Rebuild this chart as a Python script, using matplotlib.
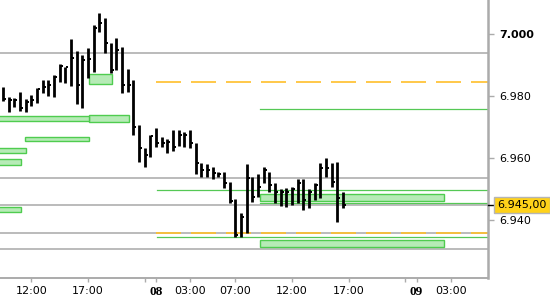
import matplotlib
matplotlib.use('Agg')
from matplotlib import pyplot as plt
from matplotlib.patches import Rectangle

# 30 min bars, x = bar number (one closed hour between 22:00 and 00:00)
highs = [6.9830, 6.9798, 6.9794, 6.9814, 6.9791, 6.9804, 6.9827, 6.9853, 6.9853, 6.9869,
         6.9904, 6.9895, 6.9985, 6.9946, 6.9933, 6.9956, 7.0030, 7.0069, 7.0053, 6.9972,
         6.9988, 6.9959, 6.9888, 6.9853, 6.9707, 6.9633, 6.9675, 6.9697, 6.9668, 6.9662,
         6.9691, 6.9691, 6.9684, 6.9691, 6.9649, 6.9584, 6.9581, 6.9571, 6.9555, 6.9555,
         6.9523, 6.9468, 6.9423, 6.9581, 6.9539, 6.9549, 6.9571, 6.9555, 6.9520, 6.9500,
         6.9504, 6.9507, 6.9533, 6.9533, 6.9500, 6.9520, 6.9584, 6.9601, 6.9584, 6.9588,
         6.9491]
lows = [6.9785, 6.9749, 6.9765, 6.9752, 6.9749, 6.9768, 6.9778, 6.9811, 6.9801, 6.9798,
        6.9846, 6.9843, 6.9833, 6.9775, 6.9762, 6.9859, 6.9878, 7.0008, 6.9940, 6.9875,
        6.9885, 6.9811, 6.9814, 6.9675, 6.9588, 6.9571, 6.9604, 6.9636, 6.9636, 6.9617,
        6.9623, 6.9639, 6.9636, 6.9633, 6.9549, 6.9539, 6.9539, 6.9533, 6.9539, 6.9504,
        6.9455, 6.9345, 6.9345, 6.9358, 6.9458, 6.9474, 6.9520, 6.9491, 6.9455, 6.9445,
        6.9442, 6.9449, 6.9455, 6.9432, 6.9439, 6.9465, 6.9471, 6.9539, 6.9507, 6.9394,
        6.9439]
closes = [6.9791, 6.9788, 6.9788, 6.9762, 6.9781, 6.9788, 6.9823, 6.9830, 6.9836, 6.9862,
          6.9898, 6.9895, 6.9924, 6.9836, 6.9917, 6.9920, 7.0021, 7.0037, 6.9972, 6.9885,
          6.9949, 6.9836, 6.9836, 6.9701, 6.9633, 6.9610, 6.9672, 6.9649, 6.9649, 6.9652,
          6.9636, 6.9675, 6.9675, 6.9649, 6.9584, 6.9562, 6.9562, 6.9552, 6.9549, 6.9520,
          6.9462, 6.9352, 6.9410, 6.9536, 6.9474, 6.9507, 6.9562, 6.9513, 6.9491, 6.9491,
          6.9491, 6.9500, 6.9520, 6.9465, 6.9491, 6.9513, 6.9568, 6.9568, 6.9523, 6.9471,
          6.9449]

gray_levels = [6.9940, 6.9536, 6.9450, 6.9357, 6.9306]
orange_levels = [6.9846, 6.9357]
orange_start = 27
green_levels = [6.9759, 6.9497, 6.9456, 6.9345]
green_starts = [45.35, 27.1, 45.35, 27.1]

zone_x0 = [45.35, 45.35, 15.2, 15.2, -1, 3.9, -1, -1, -1]
zone_x1 = [77.8, 77.8, 19.2, 22.3, 15.2, 15.2, 4.0, 3.1, 3.1]
zone_lo = [6.9463, 6.9313, 6.9839, 6.9716, 6.9721, 6.9656, 6.9616, 6.9579, 6.9425]
zone_hi = [6.9484, 6.9335, 6.9872, 6.9739, 6.9736, 6.9669, 6.9632, 6.9596, 6.9443]

xtick_pos = [5, 15, 25, 27, 33, 41, 51, 61, 71, 73, 79]
xtick_names = ['12:00', '17:00', '', '08', '03:00', '07:00', '12:00', '17:00', '', '09', '03:00']
ytick_pos = [6.94, 6.96, 6.98, 7.00]
last_price = 6.945

axis_gray = '#ababab'

fig = plt.figure(figsize=(5.5, 3), dpi=100)
ax = fig.add_axes([0, 22/300, 488/550, 278/300])
xmin, xmax = -0.53, 85.6
ax.set_xlim(xmin, xmax)
ax.set_ylim(6.9213, 7.0111)

for lv in gray_levels:
    ax.axhline(lv, color='#a8a8a8', lw=1.1, zorder=1)
for lv in orange_levels:
    ax.plot([orange_start, xmax], [lv, lv], color='#ffbf2a', lw=1.2,
            dashes=(15, 6), zorder=2)
for lv, x0 in zip(green_levels, green_starts):
    ax.plot([x0, xmax], [lv, lv], color='#55c855', lw=0.9, zorder=2)

for x0, x1, lo, hi in zip(zone_x0, zone_x1, zone_lo, zone_hi):
    ax.add_patch(Rectangle((x0, lo), x1 - x0, hi - lo, facecolor='#b6ebb6',
                           edgecolor='#4fcc4f', lw=1.0, zorder=3))

xs = list(range(len(highs)))
ax.vlines(xs, lows, highs, color='black', lw=2.0, capstyle='butt', zorder=4)
ax.hlines(closes, [x + 0.1 for x in xs], [x + 0.55 for x in xs],
          color='black', lw=1.4, zorder=4)

for s in ['left', 'top']:
    ax.spines[s].set_visible(False)
ax.spines['right'].set_color(axis_gray)
ax.spines['right'].set_linewidth(1.8)
ax.spines['bottom'].set_color(axis_gray)
ax.spines['bottom'].set_linewidth(1.4)

ax.yaxis.tick_right()
ax.set_yticks(ytick_pos)
ax.set_yticklabels(['%.3f' % v for v in ytick_pos])
ax.tick_params(axis='y', length=4, width=1, color=axis_gray, pad=4, labelsize=8)
ax.get_yticklabels()[-1].set_fontweight('bold')

ax.set_xticks(xtick_pos)
ax.set_xticklabels(xtick_names)
ax.tick_params(axis='x', length=3, width=1, color=axis_gray, pad=3, labelsize=8)
for lab, name in zip(ax.get_xticklabels(), xtick_names):
    if name in ('08', '09'):
        lab.set_fontfamily('Liberation Serif')
        lab.set_fontweight('bold')
        lab.set_fontsize(9.5)

# last price marker on the axis
ax.plot([1.0, 1.013], [last_price, last_price], color='black', lw=1,
        transform=ax.get_yaxis_transform(), clip_on=False, zorder=6)
ax.text(1.019, last_price, '6.945,00', transform=ax.get_yaxis_transform(),
        ha='left', va='center', fontsize=8, clip_on=False, zorder=7,
        bbox=dict(boxstyle='square,pad=0.28', facecolor='#ffd21a', edgecolor='#b5b5b5', lw=1))

fig.savefig('out.png', dpi=100)
